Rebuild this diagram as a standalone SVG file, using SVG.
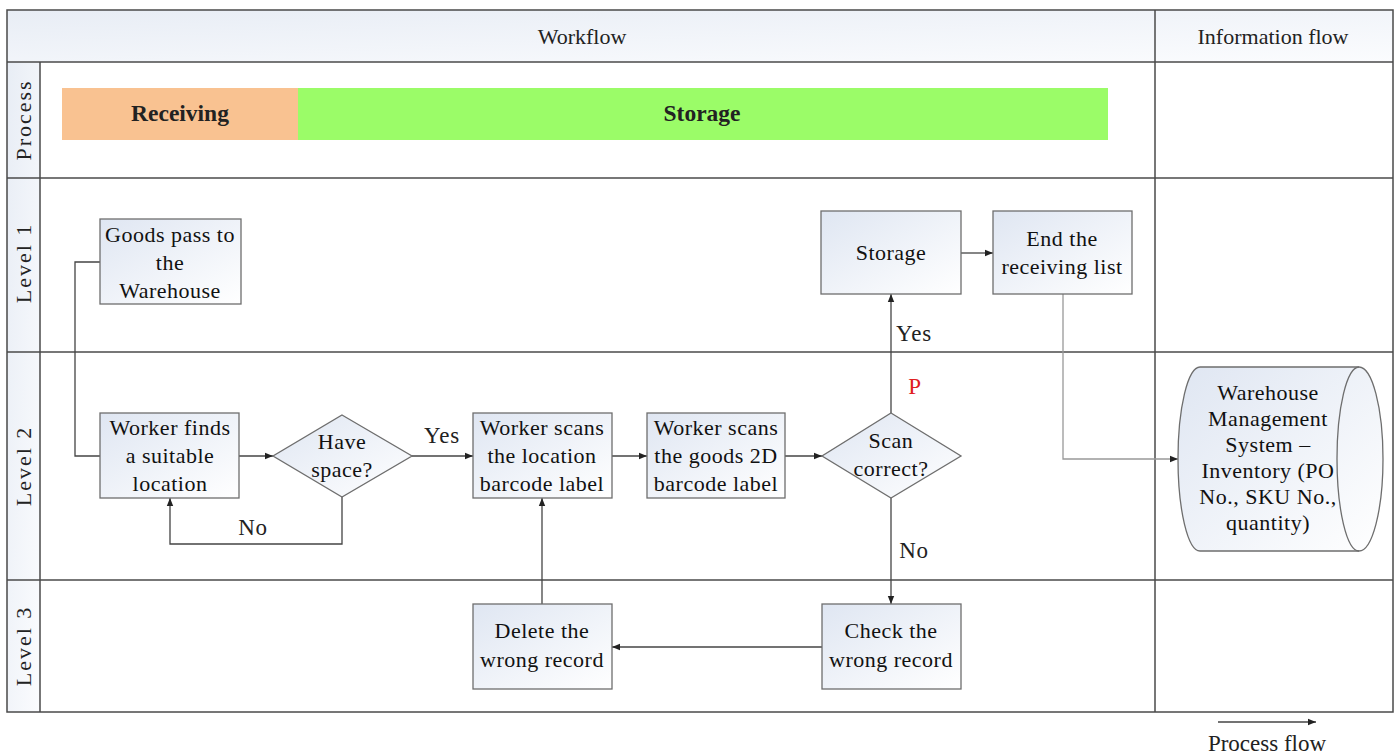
<svg xmlns="http://www.w3.org/2000/svg" width="1397" height="756" viewBox="0 0 1397 756">
<style>
.frame{fill:none;stroke:#4a4a4a;stroke-width:1.5}
.box{fill:url(#bg);stroke:#6e6e6e;stroke-width:1.3}
.t{font-family:"Liberation Serif","Times New Roman",serif;font-size:22px;fill:#111;text-anchor:middle;letter-spacing:0.5px}
.h{font-family:"Liberation Serif","Times New Roman",serif;font-size:22px;fill:#222;text-anchor:middle}
.lbl{font-family:"Liberation Serif","Times New Roman",serif;font-size:23px;fill:#222;text-anchor:middle;letter-spacing:0.8px}
.lv{font-family:"Liberation Serif","Times New Roman",serif;font-size:22px;fill:#222;text-anchor:middle;letter-spacing:2px}
.b{font-family:"Liberation Serif","Times New Roman",serif;font-size:23.5px;font-weight:bold;fill:#222;text-anchor:middle}
.c{fill:none;stroke:#444;stroke-width:1.3}
.cl{fill:none;stroke:#999;stroke-width:1.3}
</style>
<defs>
<linearGradient id="bg" x1="0" y1="0" x2="1" y2="1">
<stop offset="0" stop-color="#dfe6f2"/>
<stop offset="1" stop-color="#ffffff"/>
</linearGradient>
<linearGradient id="hg" x1="0" y1="0" x2="1" y2="1">
<stop offset="0" stop-color="#e8edf5"/>
<stop offset="1" stop-color="#fbfcfe"/>
</linearGradient>
<marker id="ar" viewBox="0 0 10 10" refX="10" refY="5" markerWidth="8" markerHeight="8" markerUnits="userSpaceOnUse" orient="auto">
<path d="M0,1 L10,5 L0,9 z" fill="#222"/>
</marker>
</defs>

<g id="frame">
<rect x="7" y="10" width="1386" height="52" fill="url(#hg)"/>
<rect x="7" y="62" width="33" height="650" fill="url(#hg)"/>
<rect x="7" y="10" width="1386" height="702" class="frame"/>
<line x1="7" y1="62" x2="1393" y2="62" class="frame"/>
<line x1="7" y1="178" x2="1393" y2="178" class="frame"/>
<line x1="7" y1="352" x2="1393" y2="352" class="frame"/>
<line x1="7" y1="580" x2="1393" y2="580" class="frame"/>
<line x1="40" y1="62" x2="40" y2="712" class="frame"/>
<line x1="1155" y1="10" x2="1155" y2="712" class="frame"/>
<text class="h" x="582" y="44">Workflow</text>
<text class="h" x="1273" y="44">Information flow</text>
<text class="lv" transform="translate(31,120) rotate(-90)">Process</text>
<text class="lv" transform="translate(31,263) rotate(-90)">Level 1</text>
<text class="lv" transform="translate(31,466) rotate(-90)">Level 2</text>
<text class="lv" transform="translate(31,646) rotate(-90)">Level 3</text>
</g>

<g id="receiving">
<rect x="62" y="88" width="236" height="52" fill="#f9c291"/>
<text class="b" x="180" y="121">Receiving</text>
</g>
<g id="storage-phase">
<rect x="298" y="88" width="810" height="52" fill="#9bfc68"/>
<text class="b" x="702" y="121">Storage</text>
</g>

<g id="connectors">
<path class="c" d="M100,262 H75 V456 H100"/>
<path class="c" d="M239,456 H273" marker-end="url(#ar)"/>
<path class="c" d="M342,497 V544 H170 V498" marker-end="url(#ar)"/>
<path class="c" d="M412,456 H473" marker-end="url(#ar)"/>
<path class="c" d="M612,456 H647" marker-end="url(#ar)"/>
<path class="c" d="M785,456 H822" marker-end="url(#ar)"/>
<path class="c" d="M891,413 V294" marker-end="url(#ar)"/>
<path class="c" d="M891,498 V604" marker-end="url(#ar)"/>
<path class="c" d="M822,647 H612" marker-end="url(#ar)"/>
<path class="c" d="M542,604 V498" marker-end="url(#ar)"/>
<path class="c" d="M961,253 H993" marker-end="url(#ar)"/>
<path class="cl" d="M1063,294 V459 H1178" marker-end="url(#ar)"/>
<path class="c" d="M1218,722 H1316" marker-end="url(#ar)"/>
<text class="lbl" x="442" y="443">Yes</text>
<text class="lbl" x="253" y="535">No</text>
<text class="lbl" x="914" y="341">Yes</text>
<text class="lbl" x="915" y="394" style="fill:#e02020">P</text>
<text class="lbl" x="914" y="558">No</text>
<text class="h" x="1267" y="751" style="font-size:23px">Process flow</text>
</g>

<g id="goods-pass">
<rect x="100" y="219" width="141" height="85" class="box"/>
<text class="t" x="170" y="242">Goods pass to</text>
<text class="t" x="170" y="270">the</text>
<text class="t" x="170" y="298">Warehouse</text>
</g>

<g id="worker-finds">
<rect x="100" y="413" width="139" height="85" class="box"/>
<text class="t" x="170" y="435">Worker finds</text>
<text class="t" x="170" y="463">a suitable</text>
<text class="t" x="170" y="491">location</text>
</g>

<g id="have-space">
<path d="M342,415 L412,456 L342,497 L273,456 Z" class="box"/>
<text class="t" x="342" y="449">Have</text>
<text class="t" x="342" y="477">space?</text>
</g>

<g id="scan-location">
<rect x="473" y="413" width="139" height="85" class="box"/>
<text class="t" x="542" y="435">Worker scans</text>
<text class="t" x="542" y="463">the location</text>
<text class="t" x="542" y="491">barcode label</text>
</g>

<g id="scan-goods">
<rect x="647" y="413" width="138" height="85" class="box"/>
<text class="t" x="716" y="435">Worker scans</text>
<text class="t" x="716" y="463">the goods 2D</text>
<text class="t" x="716" y="491">barcode label</text>
</g>

<g id="scan-correct">
<path d="M891,413 L961,456 L891,498 L822,456 Z" class="box"/>
<text class="t" x="891" y="448">Scan</text>
<text class="t" x="891" y="476">correct?</text>
</g>

<g id="storage">
<rect x="821" y="211" width="140" height="83" class="box"/>
<text class="t" x="891" y="260">Storage</text>
</g>

<g id="end-list">
<rect x="993" y="211" width="139" height="83" class="box"/>
<text class="t" x="1062" y="246">End the</text>
<text class="t" x="1062" y="274">receiving list</text>
</g>

<g id="wms">
<path d="M1200,367 A22,92 0 0 0 1200,551 L1359,551 A24,92 0 0 0 1359,367 Z" class="box"/>
<path d="M1359,367 A22,92 0 0 0 1359,551" fill="none" stroke="#6e6e6e" stroke-width="1.3"/>
<text class="t" x="1268" y="400">Warehouse</text>
<text class="t" x="1268" y="426">Management</text>
<text class="t" x="1268" y="452">System –</text>
<text class="t" x="1268" y="478">Inventory (PO</text>
<text class="t" x="1268" y="504">No., SKU No.,</text>
<text class="t" x="1268" y="530">quantity)</text>
</g>

<g id="check-record">
<rect x="822" y="604" width="139" height="85" class="box"/>
<text class="t" x="891" y="638">Check the</text>
<text class="t" x="891" y="667">wrong record</text>
</g>

<g id="delete-record">
<rect x="473" y="604" width="139" height="85" class="box"/>
<text class="t" x="542" y="638">Delete the</text>
<text class="t" x="542" y="667">wrong record</text>
</g>
</svg>
